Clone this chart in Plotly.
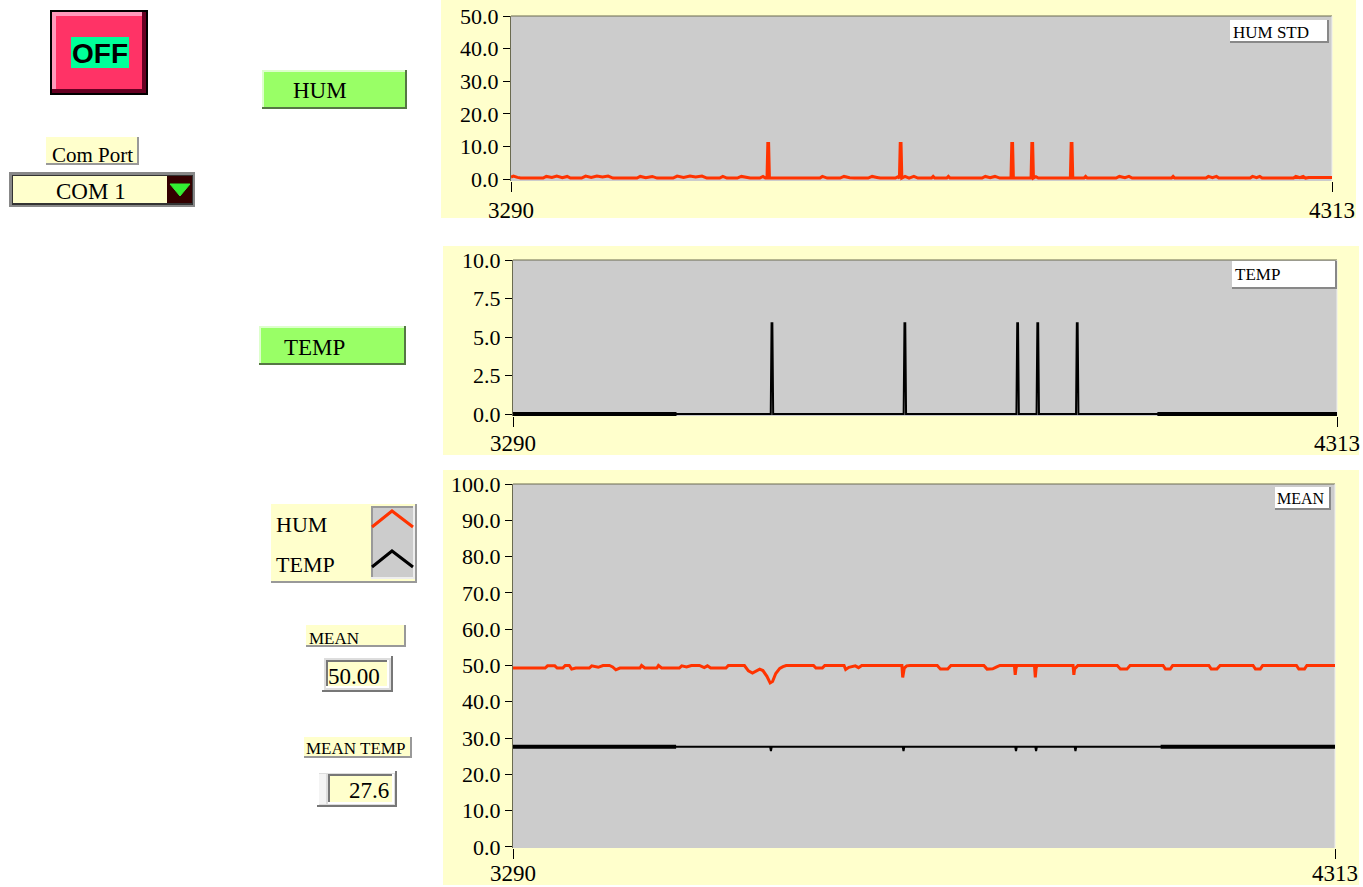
import plotly.graph_objects as go

# ---------------- data ----------------
X_RANGE = [3290, 4313]
X_TICKS = [3290, 4313]

HUM_STD_X = [3290, 3293, 3298, 3302, 3330, 3334, 3341, 3347, 3354, 3360, 3364, 3378, 3383, 3390, 3397,
             3404, 3411, 3417, 3447, 3451, 3458, 3466, 3472, 3492, 3497, 3505, 3513, 3520, 3528, 3534,
             3550, 3554, 3559, 3572, 3577, 3583, 3588, 3600, 3604, 3607, 3609, 3610, 3611, 3612, 3675,
             3678, 3684, 3700, 3705, 3712, 3718, 3735, 3740, 3746, 3750, 3769, 3772, 3774, 3775, 3776,
             3777, 3781, 3786, 3792, 3797, 3814, 3816, 3818, 3833, 3835, 3837, 3877, 3881, 3887, 3893,
             3899, 3913, 3914, 3915, 3916, 3938, 3939, 3940, 3941, 3944, 3947, 3987, 3988, 3989, 3990,
             4004, 4006, 4008, 4044, 4048, 4055, 4060, 4064, 4113, 4115, 4117, 4156, 4159, 4164, 4169,
             4172, 4211, 4214, 4219, 4223, 4226, 4265, 4268, 4273, 4277, 4280, 4284, 4313]
HUM_STD_Y = [0.6, 0.9, 0.5, 0.3, 0.3, 0.8, 0.5, 0.9, 0.4, 0.8, 0.3, 0.3, 0.9, 0.5, 0.9,
             0.6, 0.9, 0.3, 0.3, 0.8, 0.4, 0.8, 0.3, 0.3, 0.9, 0.5, 0.9, 0.6, 0.9, 0.3,
             0.3, 0.8, 0.3, 0.3, 0.8, 0.5, 0.3, 0.3, 0.8, 0.3, 0.3, 10.9, 10.9, 0.3, 0.3,
             0.8, 0.3, 0.3, 0.8, 0.4, 0.3, 0.3, 0.8, 0.5, 0.3, 0.3, 0.7, 0.3, 10.9, 10.9,
             0.3, 0.8, 0.3, 0.8, 0.3, 0.3, 0.8, 0.3, 0.3, 0.8, 0.3, 0.3, 0.8, 0.4, 0.8,
             0.3, 0.3, 10.9, 10.9, 0.3, 0.3, 10.9, 10.9, 0.3, 0.7, 0.3, 0.3, 10.9, 10.9, 0.3,
             0.3, 0.8, 0.3, 0.3, 0.8, 0.4, 0.8, 0.3, 0.3, 0.8, 0.3, 0.3, 0.8, 0.4, 0.8,
             0.3, 0.3, 0.8, 0.4, 0.8, 0.3, 0.3, 0.8, 0.4, 0.8, 0.3, 0.5, 0.5]

TEMP_STD_X = [3290, 3493, 3610, 3611, 3612, 3613, 3775, 3776, 3777, 3778, 3915, 3916, 3917, 3918,
              3940, 3941, 3942, 3943, 3989, 3990, 3991, 3992, 4090, 4313]
TEMP_STD_Y = [0, 0, 0, 5.9, 5.9, 0, 0, 5.9, 5.9, 0, 0, 5.9, 5.9, 0,
              0, 5.9, 5.9, 0, 0, 5.9, 5.9, 0, 0, 0]

MEAN_HUM_X = [3290, 3330, 3333, 3342, 3345, 3352, 3355, 3360, 3363, 3368, 3385, 3388, 3396, 3402,
              3410, 3414, 3418, 3423, 3448, 3450, 3454, 3469, 3471, 3475, 3497, 3500, 3506, 3512,
              3522, 3528, 3532, 3536, 3555, 3558, 3578, 3583, 3588, 3593, 3597, 3601, 3606, 3610,
              3613, 3617, 3622, 3626, 3630, 3664, 3667, 3675, 3678, 3702, 3704, 3708, 3716, 3720,
              3724, 3774, 3775, 3777, 3780, 3784, 3818, 3822, 3831, 3835, 3876, 3880, 3887, 3892,
              3896, 3914, 3915, 3916, 3917, 3939, 3940, 3941, 3942, 3987, 3988, 3989, 3990, 3993,
              4042, 4046, 4054, 4058, 4099, 4102, 4108, 4111, 4156, 4159, 4166, 4170, 4211, 4214,
              4220, 4223, 4265, 4268, 4275, 4278, 4313]
MEAN_HUM_Y = [49.3, 49.3, 49.9, 49.9, 49.3, 49.3, 50.0, 50.0, 49.0, 49.3, 49.3, 49.9, 49.5, 50.0,
              50.0, 49.6, 48.8, 49.3, 49.3, 50.0, 49.3, 49.3, 50.0, 49.3, 49.3, 49.9, 49.6, 50.0,
              50.0, 49.4, 49.9, 49.3, 49.3, 50.0, 50.0, 48.5, 47.9, 48.6, 49.0, 48.6, 47.0, 45.2,
              45.6, 47.8, 49.2, 49.7, 50.0, 50.0, 49.3, 49.3, 50.0, 50.0, 48.9, 49.5, 49.9, 49.4,
              50.0, 50.0, 46.7, 49.3, 49.9, 50.0, 50.0, 49.0, 49.0, 50.0, 50.0, 49.0, 49.1, 49.6,
              50.0, 50.0, 47.4, 49.2, 50.0, 50.0, 46.7, 49.2, 50.0, 50.0, 47.4, 49.2, 49.3, 50.0,
              50.0, 49.0, 49.0, 50.0, 50.0, 49.0, 49.0, 50.0, 50.0, 49.0, 49.0, 50.0, 50.0, 49.0,
              49.0, 50.0, 50.0, 49.0, 49.0, 50.0, 50.0]

MEAN_TEMP_X = [3290, 3493, 3610, 3611, 3612, 3775, 3776, 3777, 3915, 3916, 3917, 3940, 3941, 3942,
               3989, 3990, 3991, 4096, 4313]
MEAN_TEMP_Y = [27.6, 27.6, 27.6, 26.4, 27.6, 27.6, 26.4, 27.6, 27.6, 26.4, 27.6, 27.6, 26.4, 27.6,
               27.6, 26.4, 27.6, 27.6, 27.6]

MEAN_HUM_VALUE = "50.00"
MEAN_TEMP_VALUE = "27.6"

# ---------------- styling ----------------
W, H = 1363, 887
SERIF = "Liberation Serif, Times New Roman, serif"
SANS = "Liberation Sans, Arial, sans-serif"
YELLOW = "#FFFFCC"
GREY = "#CCCCCC"
RED = "#FF3300"


def px(x):
    return x / W


def py(y):
    return 1 - y / H


shapes = []
annotations = []


def rect(x0, y0, x1, y1, fill, line=None, lw=0):
    shapes.append(dict(type="rect", xref="paper", yref="paper", x0=px(x0), x1=px(x1),
                       y0=py(y1), y1=py(y0), fillcolor=fill, layer="below",
                       line=dict(width=lw, color=line or fill)))


def seg(x0, y0, x1, y1, color, lw=1):
    shapes.append(dict(type="line", xref="paper", yref="paper", x0=px(x0), x1=px(x1),
                       y0=py(y0), y1=py(y1), layer="below", line=dict(width=lw, color=color)))


def bevel(x0, y0, x1, y1, light, dark, lw=2):
    seg(x0, y0 + lw / 2, x1, y0 + lw / 2, light, lw)
    seg(x0 + lw / 2, y0, x0 + lw / 2, y1, light, lw)
    seg(x0, y1 - lw / 2, x1, y1 - lw / 2, dark, lw)
    seg(x1 - lw / 2, y0, x1 - lw / 2, y1, dark, lw)


def path(points, color, lw=2, fill=None):
    d = "M " + " L ".join(f"{px(a)},{py(b)}" for a, b in points)
    if fill:
        d += " Z"
    shapes.append(dict(type="path", xref="paper", yref="paper", path=d, layer="below",
                       fillcolor=fill or "rgba(0,0,0,0)", line=dict(width=lw, color=color)))


def text(x, y, s, size, anchor="left", family=SERIF, color="black"):
    annotations.append(dict(x=px(x), y=py(y), xref="paper", yref="paper", text=s,
                            showarrow=False, xanchor=anchor, yanchor="middle",
                            borderpad=0, font=dict(family=family, size=size, color=color)))


# chart panels (pixel boxes) and plot areas
PANELS = [(441, 0, 1356, 218), (443, 246, 1359, 455), (443, 470, 1359, 885)]
PLOTS = [(511, 16, 1332, 181), (513, 260, 1337, 416), (513, 484, 1335, 848)]

for (a, b, c, d) in PANELS:
    rect(a, b, c, d, YELLOW)
for (a, b, c, d) in PLOTS:
    rect(a, b, c, d, GREY)
    seg(a, b, c, b, "#6b6b50", 1)
    seg(c, b, c, d, "#eeeeee", 1)

# in-plot name boxes
rect(1230, 20, 1329, 43, "white")
bevel(1230, 20, 1329, 43, "#ffffff", "#888888", 2)
text(1232, 33, "HUM STD", 17)
rect(1232, 261, 1337, 289, "white")
bevel(1232, 261, 1337, 289, "#ffffff", "#888888", 2)
text(1234, 274, "TEMP", 17)
rect(1275, 487, 1331, 510, "white")
bevel(1275, 487, 1331, 510, "#ffffff", "#888888", 2)
text(1276, 498, "MEAN", 16)

# OFF button
rect(50, 10, 148, 95, "black")
rect(52, 12, 146, 93, "#FF3366")
bevel(52, 12, 146, 93, "#FF99BB", "#660022", 4)
rect(71, 37, 129, 68, "#00FF99")
text(100, 54, "<b>OFF</b>", 28, anchor="center", family=SANS)

# HUM / TEMP buttons
rect(262, 70, 407, 109, "#99FF66")
bevel(262, 70, 407, 109, "#DDFFCC", "#557744", 2)
text(292, 91, "HUM", 23)
rect(259, 326, 406, 365, "#99FF66")
bevel(259, 326, 406, 365, "#DDFFCC", "#557744", 2)
text(283, 347, "TEMP", 23)

# Com port
rect(46, 137, 139, 165, YELLOW)
bevel(46, 137, 139, 165, YELLOW, "#999999", 2)
text(92, 155, "Com Port", 21, anchor="center")
rect(9, 172, 195, 207, "#888888")
rect(12, 175, 193, 205, "#333333")
rect(13, 176, 167, 203, YELLOW)
rect(167, 176, 192, 203, "#330000")
path([(170, 184), (190, 184), (180, 196)], "#33EE33", 1, fill="#33EE33")
text(91, 191, "COM 1", 23, anchor="center")

# legend
rect(271, 504, 417, 583, YELLOW)
bevel(271, 504, 417, 583, YELLOW, "#999999", 2)
rect(371, 506, 415, 579, GREY)
bevel(371, 506, 415, 579, "#999999", "#eeeeee", 2)
path([(372, 527), (392, 511), (413, 527)], RED, 3)
path([(372, 567), (392, 551), (413, 567)], "black", 3)
text(275, 524, "HUM", 22)
text(275, 564, "TEMP", 22)

# mean indicators
rect(306, 625, 406, 647, YELLOW)
bevel(306, 625, 406, 647, YELLOW, "#999999", 2)
text(308, 638, "MEAN", 17)
rect(322, 656, 393, 692, "#DDDDDD")
bevel(322, 656, 393, 692, "#ffffff", "#777777", 2)
rect(326, 660, 389, 688, YELLOW)
bevel(326, 660, 389, 688, "#777777", "#ffffff", 2)
text(327, 676, MEAN_HUM_VALUE, 23)

rect(304, 737, 412, 758, YELLOW)
bevel(304, 737, 412, 758, YELLOW, "#999999", 2)
text(305, 748, "MEAN TEMP", 17)
rect(317, 771, 397, 807, "#DDDDDD")
bevel(317, 771, 397, 807, "#ffffff", "#777777", 2)
rect(319, 774, 326, 804, "#f4f4f4")
rect(328, 774, 394, 804, YELLOW)
bevel(328, 774, 394, 804, "#777777", "#ffffff", 2)
text(390, 790, MEAN_TEMP_VALUE, 23, anchor="right")

# ---------------- traces ----------------
THICK_LEFT, THICK_RIGHT = 3493, 4090


def masked(xs, ys, keep):
    return [y if keep(x) else None for x, y in zip(xs, ys)]


def thick(x):
    return x <= THICK_LEFT or x >= THICK_RIGHT


fig = go.Figure()
fig.add_trace(go.Scatter(x=HUM_STD_X, y=HUM_STD_Y, mode="lines", line=dict(color=RED, width=3),
                         xaxis="x", yaxis="y", hoverinfo="skip"))

fig.add_trace(go.Scatter(x=TEMP_STD_X, y=TEMP_STD_Y, mode="lines", line=dict(color="black", width=2),
                         xaxis="x2", yaxis="y2", hoverinfo="skip"))
fig.add_trace(go.Scatter(x=TEMP_STD_X, y=masked(TEMP_STD_X, TEMP_STD_Y, thick),
                         mode="lines", line=dict(color="black", width=4), connectgaps=False,
                         xaxis="x2", yaxis="y2", hoverinfo="skip"))

fig.add_trace(go.Scatter(x=MEAN_HUM_X, y=MEAN_HUM_Y, mode="lines", line=dict(color=RED, width=3),
                         xaxis="x3", yaxis="y3", hoverinfo="skip"))
fig.add_trace(go.Scatter(x=MEAN_TEMP_X, y=MEAN_TEMP_Y, mode="lines", line=dict(color="black", width=2),
                         xaxis="x3", yaxis="y3", hoverinfo="skip"))
fig.add_trace(go.Scatter(x=MEAN_TEMP_X, y=masked(MEAN_TEMP_X, MEAN_TEMP_Y, thick),
                         mode="lines", line=dict(color="black", width=4), connectgaps=False,
                         xaxis="x3", yaxis="y3", hoverinfo="skip"))


def xaxis(box, anchor, standoff):
    a, b, c, d = box
    return dict(domain=[px(a), px(c)], range=X_RANGE, anchor=anchor, tickmode="array",
                tickvals=X_TICKS, ticktext=[str(t) for t in X_TICKS], ticks="outside",
                ticklen=10, tickwidth=1, tickcolor="black", showgrid=False, zeroline=False,
                showline=False, automargin=False, ticklabelstandoff=standoff,
                tickfont=dict(family=SERIF, size=23, color="black"), fixedrange=True)


def yaxis(box, anchor, rng, dtick):
    a, b, c, d = box
    return dict(domain=[py(d), py(b)], range=rng, anchor=anchor, dtick=dtick, tick0=0,
                tickformat=".1f", ticks="outside", ticklen=7, tickwidth=1, tickcolor="black",
                showgrid=False, zeroline=False, showline=True, linecolor="#6b6b50", linewidth=1,
                automargin=False,
                tickfont=dict(family=SERIF, size=22, color="black"), fixedrange=True)


fig.update_layout(
    width=W, height=H, margin=dict(l=0, r=0, t=0, b=0, pad=0), autosize=False,
    paper_bgcolor="white", plot_bgcolor="rgba(0,0,0,0)", showlegend=False,
    xaxis=xaxis(PLOTS[0], "y", -2), yaxis=yaxis(PLOTS[0], "x", [-0.6, 50], 10),
    xaxis2=xaxis(PLOTS[1], "y2", -4), yaxis2=yaxis(PLOTS[1], "x2", [-0.13, 10], 2.5),
    xaxis3=xaxis(PLOTS[2], "y3", -6), yaxis3=yaxis(PLOTS[2], "x3", [-0.28, 100], 10),
    shapes=shapes, annotations=annotations,
)

fig.write_html(
    "out.html",
    config={"displayModeBar": False},
    post_script="document.body.style.margin='0px';document.body.style.padding='0px';"
                "document.body.style.overflow='hidden';",
)
